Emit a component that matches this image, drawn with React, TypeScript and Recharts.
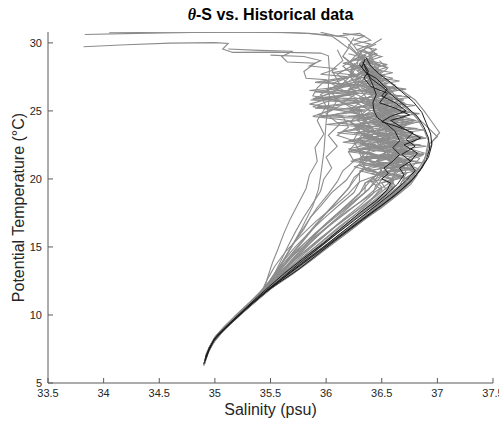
import { LineChart, Line, XAxis, YAxis } from "recharts";

type Pt = [number, number]; // [salinity, potential temperature]

const salinityTicks = [33.5, 34, 34.5, 35, 35.5, 36, 36.5, 37, 37.5];
const thetaTicks = [5, 10, 15, 20, 25, 30];

// historical profiles (grey)
const g01: Pt[] = [[33.82,29.72],[34.2,29.86],[34.6,29.98],[35.0,30.02],[35.12,29.96],[35.07,29.55],[35.16,29.3],[35.55,29.32],[35.95,29.25],[36.02,29.05],[36.03,28.0],[36.02,26.8],[36.03,26.0],[36.0,24.2],[35.98,22.0],[35.95,20.2],[35.93,19.2],[35.88,18.0],[35.77,16.2],[35.66,14.6],[35.58,13.5],[35.5,12.6],[35.44,11.8],[35.32,10.8],[35.18,9.7],[35.06,8.8],[34.98,8.0],[34.93,7.2],[34.91,6.6]];
const g02: Pt[] = [[33.83,30.62],[34.3,30.7],[34.8,30.76],[35.3,30.78],[35.7,30.74],[36.0,30.62],[36.18,30.4],[36.25,29.8],[36.3,29.2],[36.28,28.4],[36.22,27.5],[36.3,26.6],[36.38,25.8],[36.45,24.9],[36.52,24.0],[36.55,23.1],[36.6,22.2],[36.68,21.3],[36.72,20.4],[36.66,19.5],[36.52,18.6],[36.38,17.6],[36.22,16.5],[36.05,15.3],[35.86,14.0],[35.66,12.8],[35.48,11.9],[35.34,10.9],[35.2,9.8],[35.07,8.8],[34.99,8.0],[34.94,7.3],[34.92,6.8]];
const g03: Pt[] = [[34.05,30.74],[34.6,30.78],[35.2,30.79],[35.6,30.77],[35.85,30.7],[36.05,30.5],[36.12,30.1],[36.2,29.6],[36.15,29.0],[36.25,28.3],[36.2,27.4],[36.1,26.6],[35.95,26.0],[36.12,25.7],[36.3,25.2],[36.35,24.3],[36.45,23.4],[36.5,22.4],[36.55,21.5],[36.62,20.6],[36.6,19.7],[36.46,18.8],[36.3,17.8],[36.1,16.6],[35.9,15.2],[35.72,13.9],[35.56,12.7],[35.45,11.8],[35.33,10.9],[35.2,9.9],[35.08,8.9],[35.0,8.1],[34.95,7.4],[34.92,6.9]];
const g04: Pt[] = [[35.12,29.55],[35.4,29.45],[35.7,29.38],[35.6,29.0],[35.65,28.6],[35.9,28.5],[35.8,27.9],[35.82,27.4],[36.0,27.3],[35.92,26.7],[35.88,26.1],[36.1,25.8],[36.05,25.1],[35.92,24.7],[36.15,24.6],[36.2,23.8],[36.1,23.2],[36.25,22.8],[36.3,21.9],[36.35,21.0],[36.28,20.2],[36.2,19.3],[36.08,18.2],[35.95,17.0],[35.82,15.7],[35.68,14.3],[35.56,13.0],[35.47,12.0],[35.35,11.0],[35.21,10.0],[35.09,9.0],[35.0,8.2],[34.95,7.5],[34.93,7.0]];
const g05: Pt[] = [[36.3,29.4],[36.35,28.8],[36.28,28.2],[36.35,27.5],[36.1,26.9],[36.3,26.7],[35.9,26.0],[36.25,25.9],[36.4,25.3],[36.3,24.6],[36.5,24.0],[36.45,23.3],[36.6,22.6],[36.55,21.9],[36.7,21.2],[36.78,20.5],[36.72,19.8],[36.6,19.0],[36.45,18.0],[36.3,17.0],[36.12,15.9],[35.95,14.8],[35.78,13.7],[35.6,12.6],[35.47,11.8],[35.34,10.8],[35.2,9.8],[35.08,8.9],[34.99,8.1],[34.94,7.3],[34.91,6.6],[34.9,6.3]];
const g06: Pt[] = [[36.38,29.8],[36.3,29.2],[36.42,28.6],[36.32,27.9],[36.45,27.2],[36.2,26.6],[36.48,26.2],[36.4,25.5],[36.58,25.0],[36.42,24.4],[36.62,23.8],[36.55,23.0],[36.7,22.4],[36.62,21.7],[36.75,21.0],[36.82,20.3],[36.76,19.6],[36.64,18.8],[36.5,17.9],[36.34,17.0],[36.18,16.0],[36.0,14.9],[35.82,13.8],[35.64,12.8],[35.5,12.0],[35.37,11.1],[35.23,10.1],[35.1,9.1],[35.01,8.3],[34.95,7.5],[34.92,6.9]];
const g07: Pt[] = [[36.33,28.9],[36.4,28.2],[36.5,27.5],[36.45,26.8],[36.62,26.1],[36.7,25.3],[36.82,24.5],[36.9,23.9],[37.0,23.1],[36.93,22.6],[36.9,21.8],[36.86,20.8],[36.78,19.9],[36.66,19.0],[36.52,18.1],[36.36,17.1],[36.2,16.1],[36.02,15.0],[35.84,13.9],[35.66,12.8],[35.5,11.9],[35.37,11.0],[35.24,10.1],[35.12,9.2],[35.02,8.4],[34.96,7.7],[34.92,7.0]];
const g08: Pt[] = [[36.25,30.4],[36.2,29.7],[36.3,29.0],[36.15,28.3],[36.25,27.6],[36.05,27.0],[36.2,26.3],[35.85,25.5],[36.1,25.2],[35.88,24.6],[36.2,24.3],[36.3,23.6],[36.25,22.9],[36.4,22.2],[36.35,21.5],[36.5,20.8],[36.45,20.0],[36.38,19.2],[36.22,18.2],[36.05,17.1],[35.9,15.9],[35.75,14.6],[35.6,13.2],[35.48,12.1],[35.36,11.1],[35.22,10.1],[35.1,9.2],[35.01,8.4],[34.95,7.6],[34.92,7.0]];
const g09: Pt[] = [[36.45,29.6],[36.38,29.0],[36.48,28.3],[36.4,27.6],[36.55,27.0],[36.35,26.4],[36.6,25.8],[36.5,25.1],[36.7,24.5],[36.55,23.8],[36.75,23.2],[36.62,22.5],[36.8,21.9],[36.7,21.2],[36.82,20.6],[36.74,19.8],[36.62,19.0],[36.48,18.1],[36.33,17.2],[36.16,16.1],[35.98,15.0],[35.8,13.9],[35.62,12.8],[35.48,11.9],[35.35,11.0],[35.21,10.0],[35.09,9.1],[35.0,8.3],[34.95,7.6],[34.92,7.1]];
const g10: Pt[] = [[36.2,29.9],[36.28,29.2],[36.2,28.5],[36.3,27.8],[36.18,27.0],[36.28,26.3],[36.15,25.6],[36.3,24.9],[36.22,24.2],[36.35,23.5],[36.28,22.8],[36.2,22.0],[36.25,21.3],[36.15,20.6],[36.1,19.8],[36.02,18.9],[35.92,17.9],[35.83,16.8],[35.74,15.7],[35.66,14.6],[35.58,13.5],[35.5,12.5],[35.44,11.7],[35.32,10.8],[35.19,9.8],[35.07,8.9],[34.99,8.1],[34.94,7.4],[34.92,6.8]];
const g11: Pt[] = [[36.34,29.5],[36.42,28.9],[36.35,28.2],[36.46,27.4],[36.38,26.7],[36.52,26.0],[36.42,25.4],[36.6,24.8],[36.48,24.1],[36.66,23.5],[36.52,22.9],[36.68,22.3],[36.55,21.6],[36.62,20.9],[36.5,20.2],[36.4,19.4],[36.28,18.5],[36.15,17.5],[36.0,16.4],[35.86,15.3],[35.72,14.1],[35.58,12.9],[35.47,12.0],[35.35,11.0],[35.22,10.0],[35.1,9.1],[35.01,8.3],[34.95,7.5],[34.92,6.9]];
const g12: Pt[] = [[36.36,29.0],[36.3,28.4],[36.44,27.8],[36.3,27.1],[36.48,26.5],[36.36,25.8],[36.55,25.2],[36.28,24.6],[36.5,24.1],[36.3,23.4],[36.52,22.8],[36.2,22.2],[36.45,21.7],[36.3,21.0],[36.48,20.4],[36.35,19.7],[36.3,18.9],[36.18,18.0],[36.04,17.0],[35.9,16.0],[35.76,14.9],[35.63,13.7],[35.52,12.6],[35.45,11.9],[35.34,11.0],[35.21,10.0],[35.09,9.1],[35.0,8.3],[34.95,7.6],[34.93,7.1]];
const g13: Pt[] = [[36.3,28.8],[36.22,28.0],[36.32,27.2],[36.2,26.5],[36.35,25.9],[36.22,25.1],[36.38,24.4],[36.25,23.7],[36.4,23.0],[36.28,22.3],[36.35,21.5],[36.25,20.7],[36.18,19.9],[36.05,19.0],[35.95,18.0],[35.86,17.2],[35.8,16.3],[35.7,15.2],[35.62,14.1],[35.55,13.1],[35.48,12.3],[35.43,11.7],[35.31,10.7],[35.18,9.7],[35.06,8.8],[34.98,8.0],[34.93,7.2],[34.91,6.6],[34.9,6.3]];
const g14: Pt[] = [[36.4,28.6],[36.48,28.0],[36.42,27.3],[36.56,26.7],[36.45,26.0],[36.64,25.4],[36.55,24.7],[36.74,24.1],[36.62,23.4],[36.8,22.8],[36.68,22.1],[36.84,21.5],[36.76,20.8],[36.8,20.1],[36.7,19.3],[36.56,18.4],[36.4,17.4],[36.23,16.3],[36.05,15.2],[35.88,14.1],[35.7,13.0],[35.53,12.1],[35.41,11.3],[35.28,10.4],[35.15,9.5],[35.05,8.7],[34.97,7.9],[34.93,7.2],[34.91,6.7]];
const g15: Pt[] = [[36.28,29.3],[36.35,28.6],[36.22,27.9],[36.3,27.2],[36.0,26.6],[36.25,26.4],[35.88,25.3],[36.15,25.0],[36.38,24.6],[36.3,23.9],[36.48,23.3],[36.38,22.6],[36.55,22.0],[36.45,21.3],[36.6,20.7],[36.5,20.0],[36.45,19.3],[36.32,18.4],[36.18,17.5],[36.02,16.5],[35.88,15.5],[35.74,14.4],[35.6,13.3],[35.49,12.3],[35.39,11.4],[35.26,10.4],[35.13,9.4],[35.03,8.6],[34.96,7.8],[34.92,7.1]];
const g16: Pt[] = [[36.1,29.5],[36.15,28.7],[36.05,28.0],[36.12,27.0],[35.95,26.2],[36.0,25.3],[35.92,24.3],[35.98,23.3],[35.9,22.3],[35.92,21.3],[35.85,20.3],[35.82,19.3],[35.75,18.2],[35.68,17.1],[35.62,16.0],[35.57,14.9],[35.52,13.9],[35.48,12.9],[35.45,12.1],[35.36,11.2],[35.23,10.2],[35.11,9.3],[35.01,8.4],[34.95,7.6],[34.92,6.9]];
const g17: Pt[] = [[36.35,28.2],[36.5,27.6],[36.38,27.0],[36.6,26.4],[36.4,25.8],[36.68,25.2],[36.45,24.6],[36.72,24.0],[36.4,23.5],[36.7,23.0],[36.42,22.4],[36.75,21.9],[36.45,21.3],[36.7,20.8],[36.55,20.2],[36.62,19.5],[36.5,18.8],[36.38,18.0],[36.24,17.0],[36.08,15.9],[35.92,14.8],[35.76,13.7],[35.6,12.6],[35.47,11.8],[35.34,10.9],[35.2,9.9],[35.08,9.0],[34.99,8.2],[34.94,7.4],[34.91,6.7]];
const g18: Pt[] = [[36.3,28.4],[36.4,27.7],[36.28,27.0],[36.45,26.3],[36.3,25.7],[36.5,25.0],[36.32,24.3],[36.58,23.8],[36.35,23.1],[36.62,22.5],[36.38,21.9],[36.65,21.2],[36.42,20.6],[36.6,19.9],[36.48,19.2],[36.4,18.4],[36.28,17.5],[36.12,16.5],[35.96,15.4],[35.8,14.3],[35.65,13.2],[35.52,12.3],[35.42,11.5],[35.3,10.6],[35.17,9.6],[35.06,8.7],[34.98,7.9],[34.93,7.2],[34.91,6.5]];
const g19: Pt[] = [[36.42,29.2],[36.36,28.5],[36.5,27.9],[36.36,27.2],[36.58,26.6],[36.42,25.9],[36.66,25.3],[36.5,24.6],[36.78,24.1],[36.55,23.5],[36.82,22.9],[36.6,22.3],[36.86,21.7],[36.62,21.1],[36.8,20.5],[36.68,19.8],[36.66,19.2],[36.54,18.4],[36.38,17.4],[36.2,16.3],[36.02,15.1],[35.84,14.0],[35.67,12.9],[35.51,12.0],[35.38,11.1],[35.25,10.2],[35.12,9.3],[35.02,8.5],[34.96,7.7],[34.92,7.0]];
const g20: Pt[] = [[36.32,28.6],[36.38,27.9],[36.48,27.2],[36.58,26.5],[36.66,25.8],[36.75,25.1],[36.82,24.4],[36.88,23.6],[36.92,22.8],[36.9,22.0],[36.88,21.2],[36.82,20.4],[36.72,19.6],[36.6,18.7],[36.44,17.7],[36.27,16.7],[36.1,15.6],[35.92,14.5],[35.74,13.4],[35.56,12.3],[35.44,11.6],[35.31,10.7],[35.18,9.7],[35.06,8.8],[34.98,8.0],[34.94,7.3],[34.92,6.8]];
const g21: Pt[] = [[35.95,30.78],[36.1,30.5],[36.3,30.7],[36.4,30.2],[36.25,29.9],[36.45,29.5],[36.3,29.0],[36.42,28.4],[36.3,27.8],[36.5,27.1],[36.35,26.5],[36.55,25.9],[36.4,25.2],[36.62,24.6],[36.45,24.0],[36.68,23.4],[36.5,22.7],[36.72,22.1],[36.52,21.5],[36.7,20.9],[36.6,20.2],[36.58,19.4],[36.44,18.5],[36.28,17.5],[36.12,16.4],[35.95,15.3],[35.78,14.2],[35.62,13.1],[35.49,12.2],[35.38,11.3],[35.25,10.3],[35.13,9.4],[35.03,8.6],[34.96,7.8],[34.93,7.2]];
const g22: Pt[] = [[36.5,30.3],[36.38,29.7],[36.46,29.1],[36.3,28.5],[36.42,27.9],[36.25,27.3],[36.38,26.8],[36.18,26.2],[36.4,25.6],[36.22,25.0],[36.45,24.4],[36.28,23.8],[36.5,23.2],[36.32,22.6],[36.55,22.0],[36.38,21.4],[36.56,20.8],[36.42,20.1],[36.5,19.4],[36.36,18.6],[36.2,17.7],[36.04,16.7],[35.88,15.6],[35.72,14.5],[35.58,13.3],[35.47,12.3],[35.37,11.3],[35.24,10.3],[35.12,9.3],[35.02,8.5],[34.95,7.6],[34.92,6.9]];
const g23: Pt[] = [[36.28,28.0],[36.45,27.5],[36.3,26.9],[36.52,26.3],[36.35,25.6],[36.6,25.0],[36.38,24.5],[36.65,23.9],[36.32,23.3],[36.6,22.7],[36.3,22.1],[36.58,21.5],[36.25,20.9],[36.5,20.4],[36.3,19.8],[36.25,19.0],[36.12,18.1],[35.98,17.1],[35.84,16.0],[35.71,14.9],[35.59,13.7],[35.5,12.6],[35.44,11.8],[35.32,10.8],[35.19,9.8],[35.07,8.9],[34.99,8.1],[34.94,7.3],[34.91,6.6]];
const g24: Pt[] = [[36.48,28.7],[36.55,28.1],[36.45,27.5],[36.62,26.9],[36.48,26.2],[36.7,25.6],[36.55,24.9],[36.8,24.3],[36.6,23.7],[36.86,23.1],[36.64,22.5],[36.88,21.9],[36.66,21.3],[36.84,20.7],[36.7,20.0],[36.7,19.4],[36.58,18.6],[36.42,17.6],[36.25,16.5],[36.07,15.4],[35.89,14.3],[35.71,13.2],[35.54,12.2],[35.42,11.4],[35.29,10.5],[35.16,9.5],[35.05,8.6],[34.97,7.8],[34.93,7.1],[34.91,6.5]];
const g25: Pt[] = [[36.3,28.9],[36.42,28.6],[36.3,28.3],[36.45,28.0],[36.28,27.7],[36.5,27.4],[36.3,27.1],[36.55,26.8],[36.32,26.5],[36.6,26.2],[36.3,25.9],[36.62,25.6],[36.28,25.3],[36.66,25.0],[36.3,24.7],[36.7,24.4],[36.32,24.1],[36.72,23.8],[36.35,23.5],[36.76,23.2],[36.38,22.9],[36.78,22.6],[36.4,22.3],[36.8,22.0],[36.42,21.7],[36.78,21.4],[36.45,21.1],[36.76,20.8],[36.5,20.5],[36.7,20.2],[36.55,19.8],[36.6,19.3],[36.5,18.6],[36.36,17.7],[36.2,16.7],[36.03,15.6],[35.86,14.5],[35.69,13.4],[35.53,12.3],[35.42,11.5],[35.29,10.6],[35.16,9.6],[35.05,8.7],[34.97,7.9],[34.93,7.1],[34.91,6.4]];
const g26: Pt[] = [[36.36,29.1],[36.25,28.8],[36.4,28.5],[36.22,28.2],[36.42,27.9],[36.2,27.6],[36.45,27.3],[36.18,27.0],[36.5,26.7],[36.2,26.4],[36.52,26.1],[36.15,25.8],[36.55,25.5],[36.18,25.2],[36.6,24.9],[36.2,24.6],[36.62,24.3],[36.22,24.0],[36.66,23.7],[36.25,23.4],[36.68,23.1],[36.28,22.8],[36.7,22.5],[36.3,22.2],[36.72,21.9],[36.32,21.6],[36.7,21.3],[36.35,21.0],[36.66,20.7],[36.4,20.4],[36.6,20.0],[36.45,19.6],[36.42,18.9],[36.3,18.0],[36.15,17.0],[35.99,15.9],[35.83,14.8],[35.67,13.7],[35.52,12.5],[35.44,11.8],[35.32,10.9],[35.19,9.9],[35.07,8.9],[34.98,8.1],[34.94,7.3],[34.92,6.7]];
const g27: Pt[] = [[36.38,28.7],[36.55,28.4],[36.4,28.1],[36.6,27.8],[36.42,27.5],[36.66,27.2],[36.45,26.9],[36.72,26.6],[36.48,26.3],[36.76,26.0],[36.5,25.7],[36.8,25.4],[36.52,25.1],[36.84,24.8],[36.55,24.5],[36.86,24.2],[36.58,23.9],[36.88,23.6],[36.6,23.3],[36.9,23.0],[36.6,22.7],[36.9,22.4],[36.6,22.1],[36.88,21.8],[36.58,21.5],[36.86,21.2],[36.6,20.9],[36.82,20.6],[36.62,20.3],[36.76,19.9],[36.66,19.3],[36.54,18.5],[36.38,17.5],[36.21,16.4],[36.03,15.3],[35.85,14.2],[35.68,13.1],[35.52,12.2],[35.41,11.4],[35.28,10.5],[35.15,9.5],[35.04,8.6],[34.97,7.8],[34.93,7.1],[34.9,6.3]];
const g28: Pt[] = [[36.2,29.2],[36.35,28.9],[36.15,28.5],[36.32,28.2],[36.05,27.8],[36.3,27.6],[35.98,27.1],[36.28,26.9],[35.9,26.4],[36.25,26.2],[35.86,25.8],[36.3,25.6],[35.9,25.2],[36.35,25.0],[35.95,24.6],[36.4,24.4],[36.0,24.0],[36.42,23.8],[36.1,23.4],[36.45,23.1],[36.15,22.7],[36.48,22.4],[36.2,22.0],[36.5,21.7],[36.22,21.3],[36.52,21.0],[36.3,20.6],[36.5,20.2],[36.35,19.7],[36.35,19.0],[36.22,18.1],[36.07,17.1],[35.92,16.1],[35.77,15.0],[35.63,13.9],[35.52,12.8],[35.45,12.0],[35.34,11.1],[35.21,10.1],[35.09,9.2],[35.0,8.4],[34.95,7.6],[34.92,6.9]];
const g29: Pt[] = [[36.3,28.1],[36.48,27.9],[36.35,27.6],[36.56,27.3],[36.38,27.0],[36.62,26.7],[36.4,26.4],[36.68,26.1],[36.42,25.8],[36.72,25.5],[36.44,25.2],[36.76,24.9],[36.46,24.6],[36.8,24.3],[36.45,24.0],[36.82,23.7],[36.44,23.4],[36.84,23.1],[36.42,22.8],[36.85,22.5],[36.4,22.2],[36.84,21.9],[36.4,21.6],[36.82,21.3],[36.42,21.0],[36.78,20.7],[36.45,20.4],[36.7,20.1],[36.5,19.7],[36.55,19.1],[36.44,18.3],[36.3,17.4],[36.14,16.4],[35.98,15.3],[35.81,14.2],[35.65,13.1],[35.5,12.1],[35.39,11.3],[35.27,10.4],[35.14,9.4],[35.04,8.6],[34.97,7.8],[34.93,7.0],[34.91,6.5]];
const g30: Pt[] = [[36.15,29.0],[36.25,28.4],[36.1,27.7],[36.2,27.0],[36.05,26.3],[36.15,25.5],[36.0,24.8],[36.12,24.0],[36.02,23.2],[36.1,22.4],[36.0,21.6],[36.05,20.8],[35.98,20.0],[35.95,19.1],[35.88,18.2],[35.8,17.2],[35.73,16.2],[35.66,15.1],[35.6,14.1],[35.54,13.1],[35.49,12.3],[35.44,11.7],[35.33,10.9],[35.2,9.9],[35.08,9.0],[34.99,8.2],[34.94,7.4],[34.91,6.7]];
const g31: Pt[] = [[36.25,28.5],[36.35,27.8],[36.25,27.1],[36.38,26.4],[36.25,25.7],[36.4,25.0],[36.28,24.3],[36.42,23.6],[36.3,22.9],[36.4,22.2],[36.3,21.5],[36.35,20.8],[36.25,20.1],[36.2,19.3],[36.1,18.4],[36.0,17.5],[35.9,16.6],[35.8,15.6],[35.7,14.6],[35.6,13.6],[35.52,12.7],[35.46,12.0],[35.35,11.1],[35.22,10.1],[35.1,9.2],[35.01,8.4],[34.95,7.6],[34.92,6.9]];
const g32: Pt[] = [[36.32,28.3],[36.45,27.6],[36.35,26.9],[36.5,26.2],[36.38,25.5],[36.55,24.8],[36.42,24.1],[36.58,23.4],[36.45,22.7],[36.58,22.0],[36.46,21.3],[36.5,20.6],[36.4,19.9],[36.32,19.1],[36.2,18.2],[36.08,17.3],[35.96,16.4],[35.85,15.4],[35.74,14.4],[35.63,13.4],[35.53,12.5],[35.46,11.9],[35.35,11.0],[35.22,10.0],[35.1,9.1],[35.01,8.3],[34.95,7.5],[34.92,6.8]];
const g33: Pt[] = [[36.4,27.8],[36.55,27.2],[36.68,26.5],[36.8,25.8],[36.88,25.0],[36.95,24.2],[37.02,23.4],[36.96,22.8],[36.92,22.0],[36.85,21.0],[36.76,20.1],[36.64,19.2],[36.5,18.3],[36.34,17.3],[36.17,16.2],[35.99,15.1],[35.81,14.0],[35.64,12.9],[35.5,12.0],[35.38,11.2],[35.26,10.3],[35.13,9.3],[35.03,8.5],[34.96,7.7],[34.92,6.9],[34.9,6.4]];
const g34: Pt[] = [[36.45,29.9],[36.3,29.4],[36.5,29.0],[36.35,28.6],[36.55,28.2],[36.38,27.8],[36.6,27.4],[36.4,27.0],[36.64,26.6],[36.42,26.2],[36.7,25.8],[36.45,25.4],[36.72,25.0],[36.4,24.6],[36.74,24.2],[36.36,23.8],[36.76,23.4],[36.34,23.0],[36.78,22.6],[36.32,22.2],[36.76,21.8],[36.3,21.4],[36.74,21.0],[36.35,20.6],[36.68,20.2],[36.4,19.8],[36.5,19.2],[36.4,18.5],[36.26,17.6],[36.1,16.6],[35.94,15.6],[35.78,14.5],[35.63,13.4],[35.5,12.4],[35.42,11.7],[35.3,10.8],[35.17,9.8],[35.06,8.9],[34.98,8.1],[34.94,7.3],[34.91,6.6]];
const g35: Pt[] = [[36.15,30.7],[36.35,30.5],[36.25,30.2],[36.4,29.9],[36.28,29.5],[36.45,29.2],[36.3,28.8],[36.48,28.4],[36.34,28.0],[36.52,27.6],[36.36,27.2],[36.56,26.8],[36.38,26.4],[36.6,26.0],[36.4,25.6],[36.64,25.2],[36.42,24.8],[36.68,24.4],[36.45,24.0],[36.7,23.6],[36.48,23.2],[36.72,22.8],[36.5,22.4],[36.74,22.0],[36.52,21.6],[36.74,21.2],[36.55,20.8],[36.72,20.4],[36.6,19.9],[36.6,19.3],[36.48,18.5],[36.33,17.6],[36.17,16.6],[36.0,15.5],[35.83,14.4],[35.67,13.3],[35.52,12.3],[35.42,11.6],[35.29,10.7],[35.16,9.7],[35.05,8.8],[34.98,8.0],[34.93,7.2],[34.91,6.6]];
const g36: Pt[] = [[35.5,29.1],[35.8,29.0],[35.95,28.7],[35.85,28.3],[36.1,28.1],[35.95,27.7],[36.2,27.5],[35.9,27.1],[36.25,26.9],[35.85,26.5],[36.3,26.3],[35.88,25.9],[36.35,25.7],[35.92,25.3],[36.3,25.1],[36.05,24.7],[36.38,24.5],[36.1,24.1],[36.4,23.9],[36.15,23.5],[36.42,23.2],[36.2,22.8],[36.45,22.5],[36.22,22.1],[36.45,21.8],[36.25,21.4],[36.42,21.0],[36.3,20.5],[36.3,19.8],[36.2,18.9],[36.06,17.9],[35.91,16.9],[35.77,15.8],[35.64,14.7],[35.54,13.6],[35.47,12.6],[35.43,11.9],[35.32,11.0],[35.19,10.0],[35.07,9.0],[34.99,8.2],[34.94,7.4],[34.92,6.8]];

// recent profiles (black)
const b1: Pt[] = [[36.33,28.6],[36.36,28.0],[36.4,27.4],[36.5,26.8],[36.6,26.1],[36.72,25.3],[36.82,24.6],[36.88,23.8],[36.92,23.0],[36.93,22.2],[36.9,21.4],[36.84,20.6],[36.76,19.8],[36.62,18.8],[36.46,17.8],[36.28,16.7],[36.1,15.6],[35.93,14.5],[35.76,13.4],[35.58,12.4],[35.46,11.7],[35.33,10.8],[35.2,9.8],[35.08,8.9],[34.99,8.1],[34.94,7.3],[34.91,6.6],[34.9,6.4]];
const b2: Pt[] = [[36.35,28.8],[36.32,28.2],[36.38,27.6],[36.42,26.9],[36.45,26.2],[36.42,25.6],[36.43,25.0],[36.46,24.5],[36.55,24.0],[36.62,23.5],[36.66,22.8],[36.6,22.3],[36.66,21.8],[36.6,21.3],[36.52,20.8],[36.56,20.4],[36.5,20.0],[36.58,19.7],[36.55,19.2],[36.45,18.4],[36.3,17.5],[36.14,16.4],[35.98,15.3],[35.8,14.2],[35.63,13.1],[35.49,12.1],[35.38,11.3],[35.25,10.3],[35.12,9.3],[35.02,8.5],[34.96,7.7],[34.92,7.0],[34.91,6.6]];
const b3: Pt[] = [[36.3,28.4],[36.36,27.8],[36.45,27.4],[36.55,26.6],[36.5,26.1],[36.62,25.6],[36.72,25.0],[36.58,24.6],[36.5,24.2],[36.62,23.9],[36.78,23.4],[36.72,22.9],[36.8,22.4],[36.68,21.8],[36.76,21.3],[36.66,20.8],[36.7,20.3],[36.64,19.6],[36.55,18.9],[36.42,18.0],[36.26,17.0],[36.1,16.0],[35.93,14.9],[35.76,13.8],[35.6,12.7],[35.48,11.9],[35.36,11.0],[35.23,10.1],[35.11,9.2],[35.01,8.4],[34.95,7.6],[34.92,6.9]];
const b4: Pt[] = [[36.36,28.9],[36.4,28.3],[36.48,27.7],[36.58,27.1],[36.68,26.4],[36.78,25.7],[36.86,24.9],[36.9,24.1],[36.94,23.3],[36.95,22.5],[36.92,21.6],[36.86,20.8],[36.78,20.0],[36.66,19.1],[36.52,18.2],[36.35,17.2],[36.17,16.1],[35.99,15.0],[35.81,13.9],[35.63,12.8],[35.49,11.9],[35.36,11.0],[35.22,10.0],[35.1,9.1],[35.0,8.3],[34.95,7.5],[34.92,6.8]];
const b5: Pt[] = [[36.34,28.5],[36.38,27.9],[36.34,27.4],[36.4,26.8],[36.55,26.3],[36.48,25.6],[36.62,25.2],[36.75,24.7],[36.58,24.3],[36.72,23.6],[36.85,23.0],[36.7,22.5],[36.82,21.9],[36.75,21.2],[36.8,20.6],[36.72,19.9],[36.6,19.0],[36.46,18.1],[36.3,17.1],[36.13,16.0],[35.96,14.9],[35.78,13.8],[35.61,12.7],[35.48,11.9],[35.35,11.0],[35.22,10.0],[35.1,9.1],[35.0,8.3],[34.95,7.5],[34.92,6.9]];

const grayProfiles = [g01, g02, g03, g04, g05, g06, g07, g08, g09, g10, g11, g12, g13, g14, g15, g16, g17, g18, g19, g20, g21, g22, g23, g24, g25, g26, g27, g28, g29, g30, g31, g32, g33, g34, g35, g36];
const blackProfiles = [b1, b2, b3, b4, b5];

const toRows = (p: Pt[]) => p.map(([s, t]) => ({ s, t }));

const FONT = '"Liberation Sans", Arial, Helvetica, sans-serif';
const AXIS = "#5a5a5a";
const TEXT = "#262626";

export default function App() {
  return (
    <div style={{ position: "absolute", left: 0, top: 0, width: 499, height: 424, fontFamily: FONT, background: "#fff" }}>
      <div
        style={{
          position: "absolute",
          left: 48,
          width: 445,
          top: 6,
          textAlign: "center",
          fontWeight: "bold",
          fontSize: 16,
          color: "#000",
        }}
      >
        <span style={{ fontStyle: "italic", fontFamily: '"Liberation Serif", serif' }}>θ</span>-S vs. Historical data
      </div>
      <LineChart width={499} height={424} margin={{ top: 32, right: 6, left: 0, bottom: 0 }}>
        <XAxis
          xAxisId="b"
          dataKey="s"
          type="number"
          domain={[33.5, 37.5]}
          ticks={salinityTicks}
          interval={0}
          allowDataOverflow
          height={41}
          tickSize={-5}
          tickMargin={11}
          stroke={AXIS}
          tick={{ fill: TEXT, fontSize: 11, fontFamily: FONT }}
          label={{ value: "Salinity (psu)", position: "insideBottom", offset: 9, fill: TEXT, fontSize: 16, fontFamily: FONT }}
        />
        <XAxis
          xAxisId="t"
          orientation="top"
          dataKey="s"
          type="number"
          domain={[33.5, 37.5]}
          ticks={salinityTicks}
          interval={0}
          allowDataOverflow
          height={0}
          tickSize={-5}
          tick={false}
          stroke={AXIS}
        />
        <YAxis
          yAxisId="l"
          type="number"
          domain={[5, 30.8]}
          ticks={thetaTicks}
          interval={0}
          allowDataOverflow
          width={48}
          tickSize={-5}
          tickMargin={11}
          stroke={AXIS}
          tick={{ fill: TEXT, fontSize: 11, fontFamily: FONT }}
          label={{
            value: "Potential Temperature (°C)",
            angle: -90,
            position: "insideLeft",
            offset: 18,
            fill: TEXT,
            fontSize: 16,
            fontFamily: FONT,
            style: { textAnchor: "middle" },
          }}
        />
        <YAxis
          yAxisId="r"
          orientation="right"
          type="number"
          domain={[5, 30.8]}
          ticks={thetaTicks}
          interval={0}
          allowDataOverflow
          width={0}
          tickSize={-5}
          tick={false}
          stroke={AXIS}
        />
        {grayProfiles.map((p, i) => (
          <Line
            key={`g${i}`}
            xAxisId="b"
            yAxisId="l"
            data={toRows(p)}
            dataKey="t"
            stroke="#8c8c8c"
            strokeWidth={1.1}
            dot={false}
            activeDot={false}
            isAnimationActive={false}
          />
        ))}
        {blackProfiles.map((p, i) => (
          <Line
            key={`b${i}`}
            xAxisId="b"
            yAxisId="l"
            data={toRows(p)}
            dataKey="t"
            stroke="#1e1e1e"
            strokeWidth={1}
            dot={false}
            activeDot={false}
            isAnimationActive={false}
          />
        ))}
      </LineChart>
    </div>
  );
}
